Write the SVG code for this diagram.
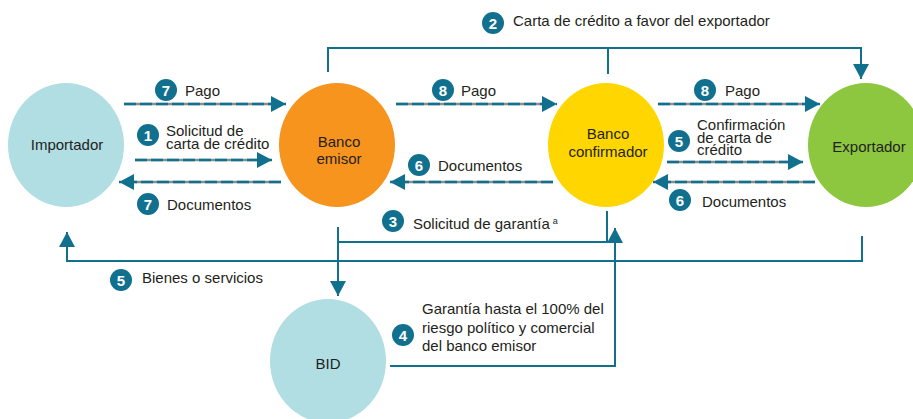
<svg xmlns="http://www.w3.org/2000/svg" width="913" height="419" viewBox="0 0 913 419">
<defs>
<style>
.lbl{font-family:"Liberation Sans",Arial,sans-serif;font-size:15px;fill:#231f20}
.ctr{text-anchor:middle}
.num{font-family:"Liberation Sans Narrow","Liberation Sans",Arial,sans-serif;font-weight:bold;font-size:15px;fill:#ffffff;text-anchor:middle}
.badge{fill:#12708f}
.solid{fill:none;stroke:#12708f;stroke-width:2}
.under{fill:none;stroke:#8c8c8c;stroke-width:2.5}
.dash{fill:none;stroke:#12708f;stroke-width:2.5;stroke-dasharray:12 4}
</style>
<marker id="arr" markerUnits="userSpaceOnUse" markerWidth="16" markerHeight="16" refX="15" refY="8" orient="auto" viewBox="0 0 16 16">
<path d="M0,0 L15,8 L0,16 z" fill="#12708f"/>
</marker>
</defs>
<rect width="913" height="419" fill="#ffffff"/>

<g id="connectors">
<!-- 2 Carta de credito -->
<polyline class="solid" points="328,72 328,48 861,48 861,79" marker-end="url(#arr)"/>
<line class="solid" x1="608" y1="48" x2="608" y2="74"/>
<!-- 7 Pago -->
<line class="under" x1="124" y1="104" x2="272" y2="104"/>
<line class="dash" x1="124" y1="104" x2="286" y2="104" marker-end="url(#arr)"/>
<!-- 1 Solicitud -->
<line class="under" x1="135" y1="160" x2="258" y2="160"/>
<line class="dash" x1="135" y1="160" x2="272" y2="160" marker-end="url(#arr)"/>
<!-- 7 Documentos -->
<line class="under" x1="281" y1="182" x2="134" y2="182"/>
<line class="dash" x1="281" y1="182" x2="119" y2="182" marker-end="url(#arr)"/>
<!-- 8 Pago middle -->
<line class="under" x1="396" y1="104" x2="543" y2="104"/>
<line class="dash" x1="396" y1="104" x2="557" y2="104" marker-end="url(#arr)"/>
<!-- 6 Documentos middle -->
<line class="under" x1="553" y1="182" x2="405" y2="182"/>
<line class="dash" x1="553" y1="182" x2="390" y2="182" marker-end="url(#arr)"/>
<!-- 8 Pago right -->
<line class="under" x1="658" y1="104" x2="806" y2="104"/>
<line class="dash" x1="658" y1="104" x2="820" y2="104" marker-end="url(#arr)"/>
<!-- 5 Confirmacion -->
<line class="under" x1="667" y1="162" x2="789" y2="162"/>
<line class="dash" x1="667" y1="162" x2="803" y2="162" marker-end="url(#arr)"/>
<!-- 6 Documentos right -->
<line class="under" x1="815" y1="182" x2="668" y2="182"/>
<line class="dash" x1="815" y1="182" x2="653" y2="182" marker-end="url(#arr)"/>
<!-- 5 Bienes o servicios -->
<polyline class="solid" points="862,236 862,261 67,261 67,232" marker-end="url(#arr)"/>
<!-- 3 Solicitud de garantia -->
<line class="solid" x1="338" y1="227" x2="338" y2="296" marker-end="url(#arr)"/>
<polyline class="solid" points="338,242 607,242 607,211"/>
<!-- 4 Garantia -->
<polyline class="solid" points="390,366 615,366 615,228" marker-end="url(#arr)"/>
</g>

<g id="node-importador">
<ellipse cx="66" cy="145" rx="58" ry="62" fill="#b1dee3"/>
<text class="lbl ctr" x="67" y="150">Importador</text>
</g>
<g id="node-banco-emisor">
<ellipse cx="337" cy="145" rx="58" ry="62" fill="#f7941e"/>
<text class="lbl ctr" x="339" y="146.5">Banco</text>
<text class="lbl ctr" x="339" y="164">emisor</text>
</g>
<g id="node-banco-confirmador">
<ellipse cx="606" cy="145" rx="58" ry="62" fill="#ffd600"/>
<text class="lbl ctr" x="608" y="139">Banco</text>
<text class="lbl ctr" x="608" y="157">confirmador</text>
</g>
<g id="node-exportador">
<ellipse cx="866" cy="145" rx="58" ry="62" fill="#8dc63f"/>
<text class="lbl ctr" x="869" y="152">Exportador</text>
</g>
<g id="node-bid">
<ellipse cx="328" cy="361" rx="58" ry="62" fill="#b1dee3"/>
<text class="lbl ctr" x="328" y="369">BID</text>
</g>

<g id="labels">
<circle class="badge" cx="493" cy="23" r="11"/><text class="num" x="493" y="28.5">2</text>
<text class="lbl" x="513" y="26">Carta de crédito a favor del exportador</text>

<circle class="badge" cx="166" cy="90" r="11"/><text class="num" x="166" y="95.5">7</text>
<text class="lbl" x="185" y="96">Pago</text>

<circle class="badge" cx="148" cy="135" r="11"/><text class="num" x="148" y="140.5">1</text>
<text class="lbl" x="166" y="136">Solicitud de</text>
<text class="lbl" x="166" y="149">carta de crédito</text>

<circle class="badge" cx="148" cy="204" r="11"/><text class="num" x="148" y="209.5">7</text>
<text class="lbl" x="167" y="210">Documentos</text>

<circle class="badge" cx="443" cy="90" r="11"/><text class="num" x="443" y="95.5">8</text>
<text class="lbl" x="461" y="96">Pago</text>

<circle class="badge" cx="419" cy="165" r="11"/><text class="num" x="419" y="170.5">6</text>
<text class="lbl" x="438" y="171">Documentos</text>

<circle class="badge" cx="705" cy="90" r="11"/><text class="num" x="705" y="95.5">8</text>
<text class="lbl" x="725" y="96">Pago</text>

<circle class="badge" cx="679" cy="141" r="11"/><text class="num" x="679" y="146.5">5</text>
<text class="lbl" x="697" y="130">Confirmación</text>
<text class="lbl" x="697" y="143">de carta de</text>
<text class="lbl" x="697" y="155">crédito</text>

<circle class="badge" cx="680" cy="200" r="11"/><text class="num" x="680" y="205.5">6</text>
<text class="lbl" x="702" y="207">Documentos</text>

<circle class="badge" cx="393" cy="221" r="11"/><text class="num" x="393" y="226.5">3</text>
<text class="lbl" x="413" y="229">Solicitud de garantía<tspan dx="3" dy="-5" font-size="9">a</tspan></text>

<circle class="badge" cx="121" cy="280" r="11"/><text class="num" x="121" y="285.5">5</text>
<text class="lbl" x="142" y="283">Bienes o servicios</text>

<circle class="badge" cx="403" cy="335" r="11"/><text class="num" x="403" y="340.5">4</text>
<text class="lbl" x="422" y="314">Garantía hasta el 100% del</text>
<text class="lbl" x="422" y="333">riesgo político y comercial</text>
<text class="lbl" x="422" y="351">del banco emisor</text>
</g>
</svg>
